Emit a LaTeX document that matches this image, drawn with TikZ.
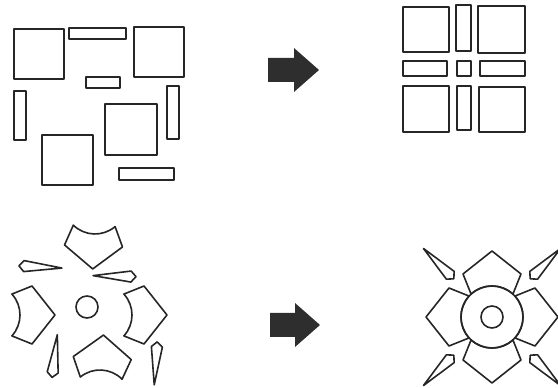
\documentclass[tikz,border=0pt]{standalone}
\usetikzlibrary{calc}
\tikzset{
  piece/.style={draw=black!85, line width=1.6pt, line join=round},
  blk/.style={fill=black!82},
  pent/.pic={\draw[piece] (42.4:31) -- (43,29) -- (66,0) -- (43,-29) -- (-42.4:31) arc[start angle=-42.4, end angle=42.4, radius=31] -- cycle;},
  spike/.pic={\draw[piece] (54,0) -- (59,5.5) -- (97,0) -- (59,-5.5) -- cycle;},
}
\begin{document}
\begin{tikzpicture}[x=1pt, y=1pt]
\useasboundingbox (0,0) rectangle (558,388);
\clip (0,0) rectangle (558,388);
% loose pieces, top
\draw[piece] (14,359) rectangle (64,309);
\draw[piece] (69,360) rectangle (126,349);
\draw[piece] (134,361) rectangle (184,311);
\draw[piece] (86,311) rectangle (120,300);
\draw[piece] (14,297) rectangle (26,248);
\draw[piece] (167,302) rectangle (179,249);
\draw[piece] (105,284) rectangle (157,233);
\draw[piece] (42,253) rectangle (93,203);
\draw[piece] (119,220) rectangle (174,208);
% assembled, top
\draw[piece] (403,381) rectangle (449,336);
\draw[piece] (456,383) rectangle (471,337);
\draw[piece] (478,382) rectangle (525,335);
\draw[piece] (403,327) rectangle (447,312);
\draw[piece] (457,327) rectangle (471,312);
\draw[piece] (480,327) rectangle (525,312);
\draw[piece] (403,302) rectangle (449,256);
\draw[piece] (457,302) rectangle (471,258);
\draw[piece] (479,301) rectangle (525,256);
% arrows
\fill[blk] (268,330) -- (294,330) -- (294,340) -- (319,318) -- (294,296) -- (294,306) -- (268,306) -- cycle;
\fill[blk] (270,75) -- (295,75) -- (295,85) -- (320,63) -- (295,41) -- (295,51) -- (270,51) -- cycle;
% loose pieces, bottom
\draw[piece] (87,81) circle[radius=11];
\pic[rotate=-92] at (95,185) {pent};
\pic at (-11,73) {pent};
\pic at (101,73) {pent};
\pic[rotate=87] at (100,-13) {pent};
\pic[rotate=-3] at (-35,125) {spike};
\pic[rotate=178.6] at (190,110) {spike};
\pic[rotate=83] at (45.5,-43) {spike};
\pic[rotate=-94] at (161,100) {spike};
% assembled, bottom
\draw[piece] (492,71) circle[radius=11];
\draw[piece] (492,71) circle[radius=31];
\foreach \a in {0,90,180,270}
  \pic[rotate=\a] at (492,71) {pent};
\foreach \a in {45,135,225,315}
  \pic[rotate=\a] at (492,71) {spike};
\end{tikzpicture}
\end{document}
